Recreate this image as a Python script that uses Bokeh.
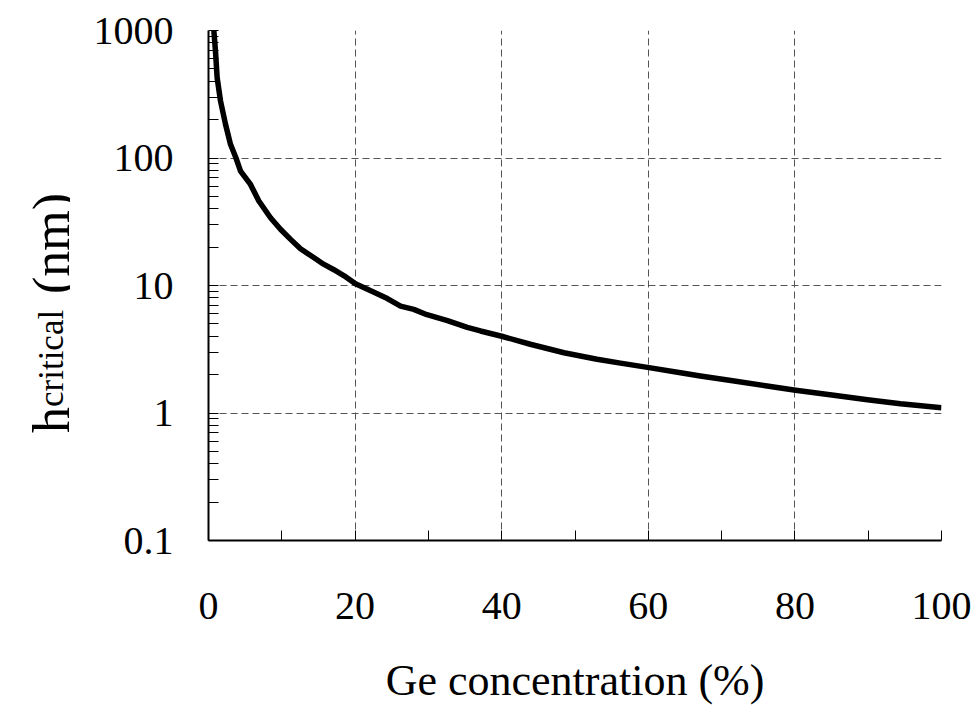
import math
from bokeh.plotting import figure
from bokeh.layouts import row
from bokeh.models import Range1d, FixedTicker, ColumnDataSource
from bokeh.core.properties import value
from bokeh.embed import file_html
from bokeh.resources import INLINE

# Data (Ge concentration %, critical thickness nm)
ge_pct = [0.73, 0.95, 1.18, 1.64, 2.32, 3.0, 3.75, 4.37, 5.73, 6.87, 8.46, 9.82,
          11.2, 12.55, 14.4, 15.7, 17.1, 18.5, 20.05, 22.5, 24.4, 26.2, 28.0,
          29.8, 32.6, 35.3, 37.1, 40.0, 43.9, 48.5, 53.0, 56.2, 60.1, 64.4,
          67.1, 71.5, 76.2, 80.1, 85.3, 89.9, 94.4, 100.0]
h_crit = [1000, 690, 426, 280, 184, 128, 100, 79, 62, 46, 34, 27.6,
          23, 19.4, 16.5, 14.7, 13.3, 11.9, 10.3, 8.9, 7.9, 6.9, 6.5,
          5.9, 5.3, 4.7, 4.4, 4.0, 3.46, 2.97, 2.64, 2.46, 2.27, 2.07,
          1.95, 1.79, 1.63, 1.51, 1.38, 1.27, 1.18, 1.10]

x_ticks = [0, 20, 40, 60, 80, 100]
x_minor = [10, 30, 50, 70, 90]
y_ticks = [0.1, 1, 10, 100, 1000]
y_tick_labels = ["0.1", "1", "10", "100", "1000"]
y_label_parts = ["h", "critical", "(nm)"]

FONT = "Liberation Serif"
LEFT_W = 70
TOP, BOTTOM = 30, 170

# ---- narrow panel holding the rotated y-axis title (same vertical log scale as the plot) ----
lf = figure(width=LEFT_W, height=710, x_range=Range1d(0, LEFT_W), y_range=Range1d(0.1, 1000),
            y_axis_type="log", output_backend="svg", toolbar_location=None,
            x_axis_location=None, y_axis_location=None,
            min_border_left=0, min_border_right=0,
            min_border_top=TOP, min_border_bottom=BOTTOM)
lf.outline_line_color = None
lf.xgrid.visible = False
lf.ygrid.visible = False

def y_at(py):
    # vertical pixel inside the page -> value on the shared log scale
    return 10 ** ((412.0 - py) / 127.5)

lab_src = ColumnDataSource(dict(x=[51, 51, 51], y=[y_at(432), y_at(406), y_at(293)],
                                text=y_label_parts, size=["52px", "35px", "52px"]))
lf.text(x="x", y="y", text="text", source=lab_src, angle=math.pi / 2,
        text_font=value(FONT), text_font_size="size", text_color="black",
        text_align="left", text_baseline="alphabetic")

# ---- main plot ----
p = figure(width=979 - LEFT_W, height=710, x_range=Range1d(0, 100), y_range=Range1d(0.1, 1000),
           y_axis_type="log", output_backend="svg", toolbar_location=None,
           min_border_left=208 - LEFT_W, min_border_right=38, min_border_top=TOP,
           min_border_bottom=BOTTOM)
p.outline_line_color = None
p.background_fill_color = "white"
p.border_fill_color = "white"

src = ColumnDataSource(dict(x=ge_pct, y=h_crit))
p.line("x", "y", source=src, line_color="black", line_width=5.5, line_join="round")

# x axis
p.xaxis.ticker = FixedTicker(ticks=x_ticks, minor_ticks=x_minor)
p.xaxis.major_tick_in = 10
p.xaxis.major_tick_out = 0
p.xaxis.minor_tick_in = 10
p.xaxis.minor_tick_out = 0
p.xaxis.major_label_text_font = FONT
p.xaxis.major_label_text_font_size = "40px"
p.xaxis.major_label_text_color = "black"
p.xaxis.major_label_standoff = 52
p.xaxis.axis_label = "Ge concentration (%)"
p.xaxis.axis_label_text_font = FONT
p.xaxis.axis_label_text_font_size = "44px"
p.xaxis.axis_label_text_font_style = "normal"
p.xaxis.axis_label_text_color = "black"
p.xaxis.axis_label_standoff = 34
p.xaxis.axis_line_color = "black"
p.xaxis.axis_line_width = 2

# y axis
y_minor = []
for d in [0.1, 1, 10, 100]:
    y_minor += [d * k for k in range(2, 10)]
p.yaxis.ticker = FixedTicker(ticks=y_ticks, minor_ticks=y_minor)
p.yaxis.major_label_overrides = {t: s for t, s in zip(y_ticks, y_tick_labels)}
p.yaxis.major_tick_in = 10
p.yaxis.major_tick_out = 0
p.yaxis.minor_tick_in = 10
p.yaxis.minor_tick_out = 0
p.yaxis.major_label_text_font = FONT
p.yaxis.major_label_text_font_size = "40px"
p.yaxis.major_label_text_color = "black"
p.yaxis.major_label_standoff = 35
p.yaxis.axis_line_color = "black"
p.yaxis.axis_line_width = 2

# grids
p.xgrid.ticker = FixedTicker(ticks=[20, 40, 60, 80, 100])
p.ygrid.ticker = FixedTicker(ticks=[1, 10, 100, 1000])
for g in (p.xgrid, p.ygrid):
    g.grid_line_color = "#555555"
    g.grid_line_dash = "7 4"
    g.grid_line_width = 1

layout = row(lf, p, spacing=0)
open("out.html", "w").write(file_html(layout, INLINE))
